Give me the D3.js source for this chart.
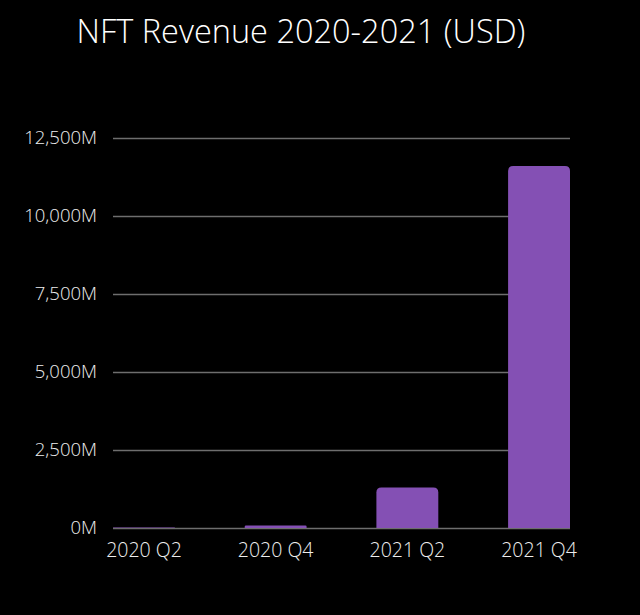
<!DOCTYPE html>
<html><head><meta charset="utf-8">
<script src="https://cdn.jsdelivr.net/npm/d3@7"></script>
<style>body{margin:0;background:#000;}svg{display:block;}</style>
</head><body>
<svg id="c" width="640" height="615"></svg>
<script>
const categories = ["2020 Q2", "2020 Q4", "2021 Q2", "2021 Q4"];
const revenue = [20, 80, 1300, 11600]; // millions USD
const tickValues = [0, 2500, 5000, 7500, 10000, 12500];
const title = "NFT Revenue 2020-2021 (USD)";

const font = "'Open Sans', Lato, sans-serif";
const svg = d3.select("#c");
svg.append("rect").attr("width", 640).attr("height", 615).attr("fill", "#000");
const mLeft = 113, mRight = 570, mTop = 138, mBottom = 528;

const x = d3.scaleBand().domain(categories).range([mLeft, mRight]).paddingInner(0.53).paddingOuter(0);
const y = d3.scaleLinear().domain([0, 12500]).range([mBottom, mTop]);

svg.append("text").attr("x", 301).attr("y", 43).attr("text-anchor", "middle")
  .attr("fill", "#fff").attr("font-family", font).attr("font-weight", 300)
  .attr("font-size", 32.5).text(title);

const ya = svg.append("g").attr("transform", `translate(${mLeft},0)`)
  .call(d3.axisLeft(y).tickValues(tickValues).tickSize(-(mRight - mLeft)).tickPadding(16)
    .tickFormat(d => d3.format(",")(d) + "M"));
ya.select(".domain").remove();
ya.selectAll("line").attr("stroke", "#6e6e6e").attr("stroke-width", 1.5);
ya.selectAll("text").attr("fill", "#eee").attr("font-size", 18.5).attr("font-weight", 300)
  .attr("font-family", font);

const r = 5;
svg.append("g").selectAll("path").data(categories).join("path")
  .attr("fill", "#8450b4")
  .attr("d", (c, i) => {
    const x0 = x(c), w = x.bandwidth(), y0 = y(revenue[i]), h = mBottom - y0;
    const rr = Math.min(r, h / 2, w / 2);
    return `M${x0},${mBottom}V${y0 + rr}Q${x0},${y0} ${x0 + rr},${y0}H${x0 + w - rr}Q${x0 + w},${y0} ${x0 + w},${y0 + rr}V${mBottom}Z`;
  });

const xa = svg.append("g").attr("transform", `translate(0,${mBottom})`)
  .call(d3.axisBottom(x).tickSize(0).tickPadding(15));
xa.select(".domain").remove();
xa.selectAll("text").attr("fill", "#eee").attr("font-size", 19.5).attr("font-weight", 300)
  .attr("font-family", font);
</script>
</body></html>
